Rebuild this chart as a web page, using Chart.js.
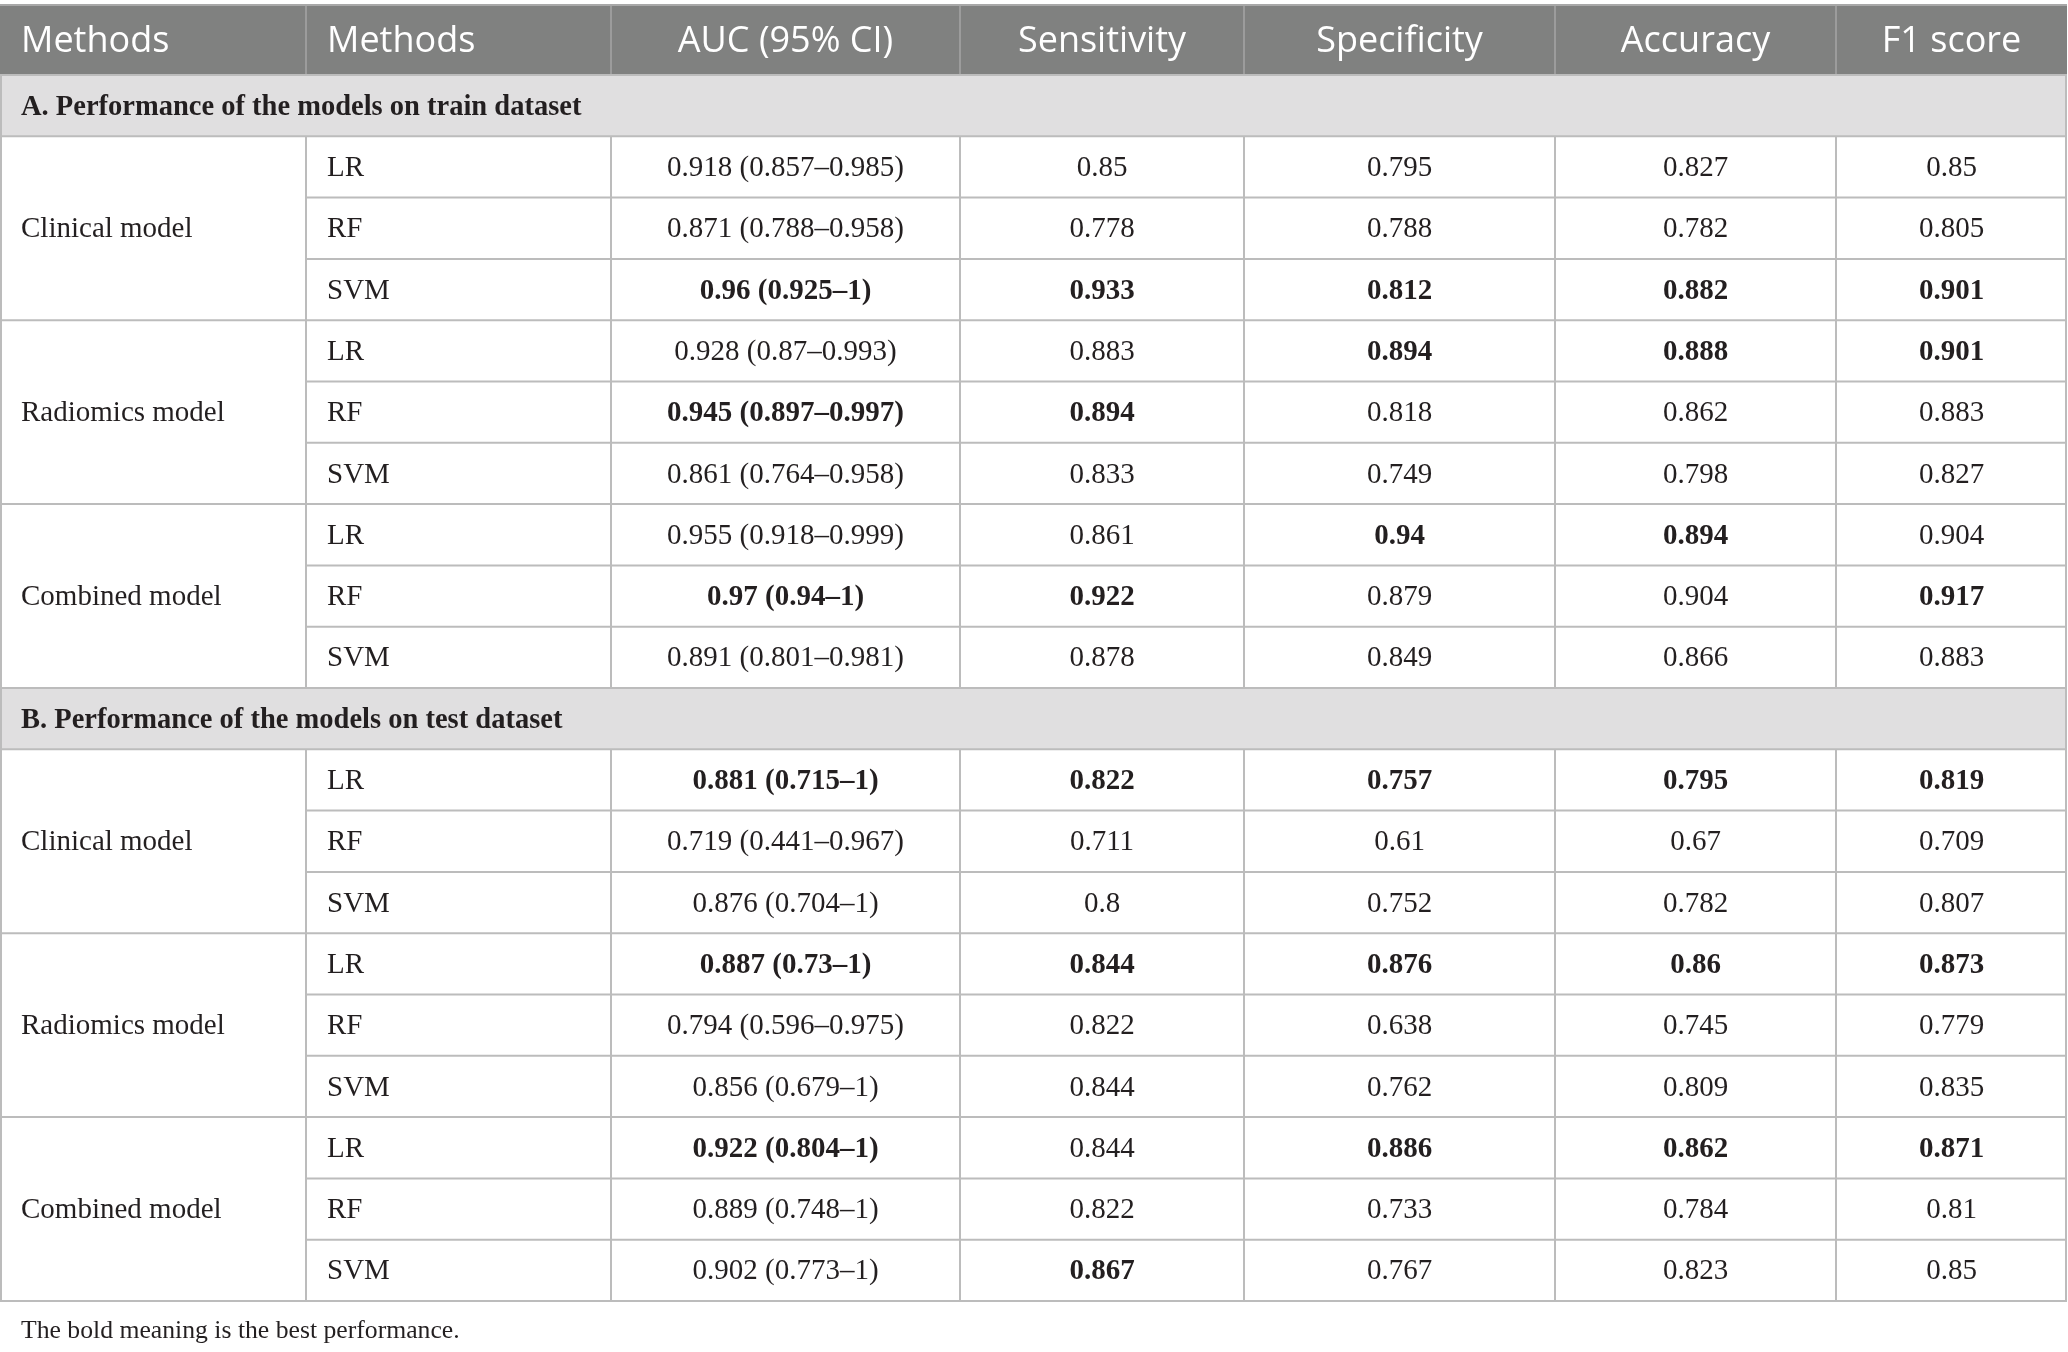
<!DOCTYPE html>
<html>
<head>
<meta charset="utf-8">
<title>Performance of the models</title>
<script src="https://cdn.jsdelivr.net/npm/chart.js@4.4.1/dist/chart.umd.min.js"></script>
<style>
  html, body { margin: 0; padding: 0; background: #fff; }
  #wrap { width: 2068px; height: 1352px; }
</style>
</head>
<body>
<div id="wrap"><canvas id="table" width="2068" height="1352"></canvas></div>
<script>
// 表格数据
const columnHeaders = ['Methods', 'Methods', 'AUC (95% CI)', 'Sensitivity', 'Specificity', 'Accuracy', 'F1 score']
const sectionTitles = ['A. Performance of the models on train dataset', 'B. Performance of the models on test dataset']
const modelGroups = ['Clinical model', 'Radiomics model', 'Combined model']
const classifiers = ['LR', 'RF', 'SVM']

// train dataset (rows: clinical LR/RF/SVM, radiomics LR/RF/SVM, combined LR/RF/SVM)
const trainAuc = [0.918, 0.871, 0.96, 0.928, 0.945, 0.861, 0.955, 0.97, 0.891]
const trainAucLow = [0.857, 0.788, 0.925, 0.87, 0.897, 0.764, 0.918, 0.94, 0.801]
const trainAucHigh = [0.985, 0.958, 1, 0.993, 0.997, 0.958, 0.999, 1, 0.981]
const trainSensitivity = [0.85, 0.778, 0.933, 0.883, 0.894, 0.833, 0.861, 0.922, 0.878]
const trainSpecificity = [0.795, 0.788, 0.812, 0.894, 0.818, 0.749, 0.94, 0.879, 0.849]
const trainAccuracy = [0.827, 0.782, 0.882, 0.888, 0.862, 0.798, 0.894, 0.904, 0.866]
const trainF1 = [0.85, 0.805, 0.901, 0.901, 0.883, 0.827, 0.904, 0.917, 0.883]
// bold flags per row: AUC, sens, spec, acc, F1
const trainBold = ['00000', '00000', '11111', '00111', '11000', '00000', '00110', '11001', '00000']

// test dataset
const testAuc = [0.881, 0.719, 0.876, 0.887, 0.794, 0.856, 0.922, 0.889, 0.902]
const testAucLow = [0.715, 0.441, 0.704, 0.73, 0.596, 0.679, 0.804, 0.748, 0.773]
const testAucHigh = [1, 0.967, 1, 1, 0.975, 1, 1, 1, 1]
const testSensitivity = [0.822, 0.711, 0.8, 0.844, 0.822, 0.844, 0.844, 0.822, 0.867]
const testSpecificity = [0.757, 0.61, 0.752, 0.876, 0.638, 0.762, 0.886, 0.733, 0.767]
const testAccuracy = [0.795, 0.67, 0.782, 0.86, 0.745, 0.809, 0.862, 0.784, 0.823]
const testF1 = [0.819, 0.709, 0.807, 0.873, 0.779, 0.835, 0.871, 0.81, 0.85]
const testBold = ['11111', '00000', '00000', '11111', '00000', '00000', '10111', '00000', '01000']

const footnote = 'The bold meaning is the best performance.'

// 版式
const colEdges = [0, 306, 611, 960, 1244, 1555, 1836, 2067]
const tableTop = 5
const headerH = 70
const rowH = 61.3
const lineColor = '#bcbcbc'
const headerBg = '#808180'
const sectionBg = '#e0dfe0'
const textColor = '#231f20'
const serif = '"Liberation Serif", "DejaVu Serif", serif'
const sans = '"Open Sans", "Noto Sans", sans-serif'

function sectionRows(auc, lo, hi, sens, spec, acc, f1, bold) {
  return auc.map((v, i) => ({
    cells: [`${v} (${lo[i]}–${hi[i]})`, String(sens[i]), String(spec[i]), String(acc[i]), String(f1[i])],
    bold: bold[i].split('').map(c => c === '1')
  }))
}

const sections = [
  { title: sectionTitles[0], rows: sectionRows(trainAuc, trainAucLow, trainAucHigh, trainSensitivity, trainSpecificity, trainAccuracy, trainF1, trainBold) },
  { title: sectionTitles[1], rows: sectionRows(testAuc, testAucLow, testAucHigh, testSensitivity, testSpecificity, testAccuracy, testF1, testBold) }
]

// 表格绘制插件
const tablePlugin = {
  id: 'tableDraw',
  beforeDraw(chart) {
    const ctx = chart.ctx
    ctx.save()
    ctx.fillStyle = '#fff'
    ctx.fillRect(0, 0, chart.width, chart.height)
    ctx.restore()
  },
  afterDraw(chart) {
    const ctx = chart.ctx
    const sx = chart.scales.x
    const sy = chart.scales.y
    const px = v => sx.getPixelForValue(v)
    const py = v => sy.getPixelForValue(v)
    const left = px(colEdges[0])
    const right = px(colEdges[colEdges.length - 1])

    const hline = (y, x0, x1, color) => {
      ctx.strokeStyle = color || lineColor
      ctx.lineWidth = 2
      ctx.beginPath()
      ctx.moveTo(x0, py(y))
      ctx.lineTo(x1, py(y))
      ctx.stroke()
    }
    const vline = (x, y0, y1, color) => {
      ctx.strokeStyle = color || lineColor
      ctx.lineWidth = 2
      ctx.beginPath()
      ctx.moveTo(px(x), py(y0))
      ctx.lineTo(px(x), py(y1))
      ctx.stroke()
    }
    const text = (str, col, yMid, font, align, color) => {
      ctx.font = font
      ctx.fillStyle = color || textColor
      ctx.textBaseline = 'middle'
      if (align === 'left') {
        ctx.textAlign = 'left'
        ctx.fillText(str, px(colEdges[col]) + 21, py(yMid))
      } else {
        ctx.textAlign = 'center'
        ctx.fillText(str, (px(colEdges[col]) + px(colEdges[col + 1])) / 2, py(yMid))
      }
    }

    ctx.save()

    // 表头
    let y = tableTop
    ctx.fillStyle = headerBg
    ctx.fillRect(left, py(y), right - left, py(y + headerH) - py(y))
    columnHeaders.forEach((h, c) => {
      text(h, c, y + headerH / 2 + 2, `36px ${sans}`, c < 2 ? 'left' : 'center', '#ffffff')
    })
    for (let c = 1; c < colEdges.length - 1; c++) vline(colEdges[c], y, y + headerH, '#9c9c9c')
    hline(y, left, right, '#a8a8a8')
    y += headerH

    sections.forEach(sec => {
      // 分组标题行
      ctx.fillStyle = sectionBg
      ctx.fillRect(left, py(y), right - left, py(y + rowH) - py(y))
      text(sec.title, 0, y + rowH / 2 + 1.5, `bold 28.5px ${serif}`, 'left')
      hline(y, left, right)
      vline(colEdges[0] + 1, y, y + rowH)
      vline(colEdges[colEdges.length - 1] - 1, y, y + rowH)
      y += rowH

      modelGroups.forEach((g, gi) => {
        const gTop = y
        text(g, 0, gTop + rowH * classifiers.length / 2 + 1.5, `29px ${serif}`, 'left')
        classifiers.forEach((m, mi) => {
          const row = sec.rows[gi * classifiers.length + mi]
          const mid = y + rowH / 2 + 1.5
          text(m, 1, mid, `29px ${serif}`, 'left')
          row.cells.forEach((v, k) => {
            text(v, k + 2, mid, `${row.bold[k] ? 'bold ' : ''}29px ${serif}`, 'center')
          })
          hline(y, mi === 0 ? left : px(colEdges[1]), right)
          y += rowH
        })
        for (let c = 1; c < colEdges.length - 1; c++) vline(colEdges[c], gTop, y)
        vline(colEdges[0] + 1, gTop, y)
        vline(colEdges[colEdges.length - 1] - 1, gTop, y)
      })
    })
    hline(y, left, right)

    // 脚注
    ctx.font = `25.7px ${serif}`
    ctx.fillStyle = textColor
    ctx.textAlign = 'left'
    ctx.textBaseline = 'middle'
    ctx.fillText(footnote, px(colEdges[0]) + 21, py(y + 30))

    ctx.restore()
  }
}

new Chart(document.getElementById('table'), {
  type: 'scatter',
  data: { datasets: [{ data: [], pointRadius: 0 }] },
  options: {
    responsive: false,
    animation: false,
    devicePixelRatio: 1,
    layout: { padding: 0 },
    plugins: { legend: { display: false }, tooltip: { enabled: false } },
    scales: {
      x: { type: 'linear', min: 0, max: 2068, display: false },
      y: { type: 'linear', min: 0, max: 1352, reverse: true, display: false }
    }
  },
  plugins: [tablePlugin]
})
</script>
</body>
</html>
